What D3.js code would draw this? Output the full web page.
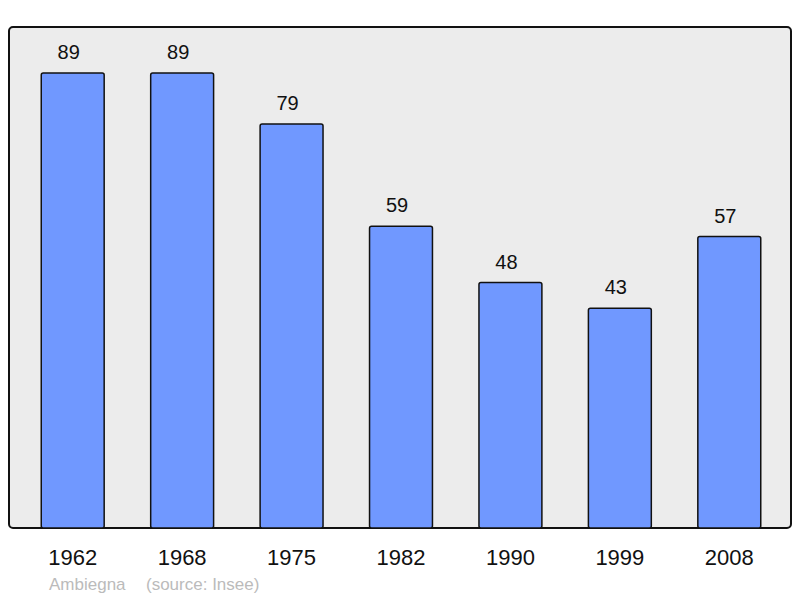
<!DOCTYPE html>
<html>
<head>
<meta charset="utf-8">
<script src="https://cdn.jsdelivr.net/npm/d3@7"></script>
<style>
  body { margin: 0; background: #fff; }
  text { font-family: "Liberation Sans", Arial, sans-serif; }
</style>
</head>
<body>
<div id="chart"></div>
<script>
// data
const years = ["1962", "1968", "1975", "1982", "1990", "1999", "2008"];
const population = [89, 89, 79, 59, 48, 43, 57];
const town = "Ambiegna";
const source = "(source: Insee)";

const width = 800;
const height = 598;
const frame = { left: 9, top: 27, right: 791, bottom: 528 };

const svg = d3.select("#chart")
  .append("svg")
  .attr("width", width)
  .attr("height", height);

// frame
svg.append("rect")
  .attr("x", frame.left)
  .attr("y", frame.top)
  .attr("width", frame.right - frame.left)
  .attr("height", frame.bottom - frame.top)
  .attr("rx", 4)
  .attr("fill", "#ececec")
  .attr("stroke", "#111")
  .attr("stroke-width", 2);

// scales
const xScale = d3.scaleBand()
  .domain(years)
  .range([18, 784])
  .paddingInner(0.425)
  .paddingOuter(0.2125);

const yScale = d3.scaleLinear()
  .domain([0, 89])
  .range([frame.bottom, 73]);

const rows = years.map((y, i) => ({ year: y, value: population[i] }));

// bars
svg.selectAll("rect.bar")
  .data(rows)
  .join("rect")
  .attr("class", "bar")
  .attr("x", d => xScale(d.year))
  .attr("y", d => yScale(d.value))
  .attr("width", xScale.bandwidth())
  .attr("height", d => frame.bottom - yScale(d.value))
  .attr("rx", 2)
  .attr("fill", "#7098ff")
  .attr("stroke", "#111")
  .attr("stroke-width", 1.5);

// value labels (sit a little left of the bar centre)
svg.selectAll("text.value")
  .data(rows)
  .join("text")
  .attr("class", "value")
  .attr("x", d => xScale(d.year) + xScale.bandwidth() / 2 - 4)
  .attr("y", d => yScale(d.value) - 14)
  .attr("text-anchor", "middle")
  .attr("font-size", 20)
  .attr("fill", "#111")
  .text(d => d.value);

// year labels
svg.selectAll("text.year")
  .data(rows)
  .join("text")
  .attr("class", "year")
  .attr("x", d => xScale(d.year) + xScale.bandwidth() / 2)
  .attr("y", 565)
  .attr("text-anchor", "middle")
  .attr("font-size", 22)
  .attr("fill", "#111")
  .text(d => d.year);

// footer
svg.append("text")
  .attr("x", 49)
  .attr("y", 590)
  .attr("font-size", 17)
  .attr("fill", "#bbb")
  .text(town);

svg.append("text")
  .attr("x", 146)
  .attr("y", 590)
  .attr("font-size", 17)
  .attr("fill", "#bbb")
  .text(source);
</script>
</body>
</html>
